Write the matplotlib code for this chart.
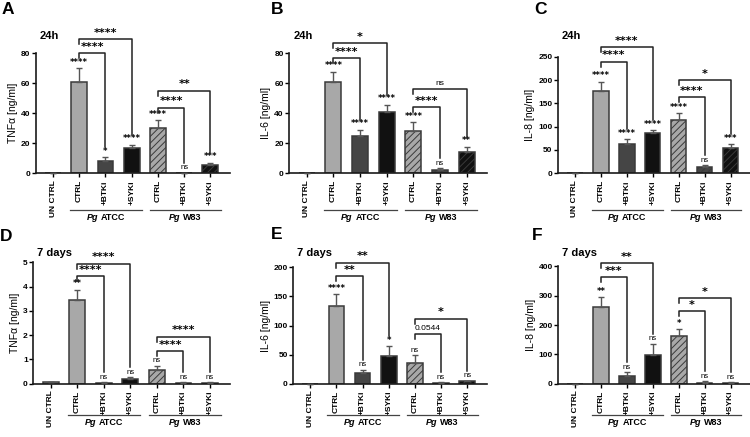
import matplotlib.pyplot as plt
from matplotlib.offsetbox import TextArea, HPacker, AnnotationBbox

plt.rcParams['font.family'] = ['Liberation Sans', 'DejaVu Sans']
plt.rcParams['font.weight'] = 'bold'
plt.rcParams['hatch.linewidth'] = 0.7

# categorias (eixo x)
groups = ['UN CTRL', 'CTRL', '+BTKi', '+SYKi', 'CTRL', '+BTKi', '+SYKi']

# A - TNFa 24h
tnf_24h = [0, 61, 8.5, 16.7, 30, 0.3, 5.6]
tnf_24h_err = [0, 9, 2.3, 2.2, 5.5, 0.2, 1.5]
tnf_24h_sig = ['', '****', '*', '****', '****', 'ns', '***']
tnf_24h_br = [(1, 2, 80, '****'), (1, 3, 89, '****'), (4, 5, 43.5, '****'), (4, 6, 55, '**')]

# B - IL-6 24h
il6_24h = [0, 61, 25, 40.5, 28, 2.5, 14]
il6_24h_err = [0, 6.5, 4, 5, 6, 1, 3.8]
il6_24h_sig = ['', '****', '****', '****', '****', 'ns', '**']
il6_24h_br = [(1, 2, 76.5, '****'), (1, 3, 86.5, '*'), (4, 5, 44, '****'), (4, 6, 56, 'ns')]

# C - IL-8 24h
il8_24h = [0, 176, 63, 86, 114, 14, 53.6]
il8_24h_err = [0, 20, 10, 7, 14.5, 4, 9.4]
il8_24h_sig = ['', '****', '****', '****', '****', 'ns', '***']
il8_24h_br = [(1, 2, 239, '****'), (1, 3, 270, '****'), (4, 5, 163, '****'), (4, 6, 200, '*')]

# D - TNFa 7 dias
tnf_7d = [0.07, 3.46, 0.04, 0.19, 0.58, 0.04, 0.04]
tnf_7d_err = [0.01, 0.41, 0.01, 0.08, 0.16, 0.01, 0.02]
tnf_7d_sig = ['', '**', 'ns', 'ns', 'ns', 'ns', 'ns']
tnf_7d_br = [(1, 2, 4.43, '****'), (1, 3, 4.95, '****'), (4, 5, 1.35, '****'), (4, 6, 1.93, '****')]

# E - IL-6 7 dias
il6_7d = [0, 134, 18.3, 48, 35.5, 2, 4]
il6_7d_err = [0, 20, 5.7, 16, 13, 0.5, 1]
il6_7d_sig = ['', '****', 'ns', '*', 'ns', 'ns', 'ns']
il6_7d_br = [(1, 2, 185, '**'), (1, 3, 208, '**'), (4, 5, 85, '0.0544'), (4, 6, 112, '*')]

# F - IL-8 7 dias
il8_7d = [0, 260, 25, 99, 161, 3, 2]
il8_7d_err = [0, 35, 15, 37, 25, 5, 4]
il8_7d_sig = ['', '**', 'ns', 'ns', '*', 'ns', 'ns']
il8_7d_br = [(1, 2, 362, '***'), (1, 3, 410, '**'), (4, 5, 247, '*'), (4, 6, 291, '*')]

panels = [
    ('A', '24h', 'TNF\u03b1 [ng/ml]', tnf_24h, tnf_24h_err, tnf_24h_sig, tnf_24h_br, [0, 20, 40, 60, 80], (36, 53, 230, 173.3)),
    ('B', '24h', 'IL-6 [ng/ml]', il6_24h, il6_24h_err, il6_24h_sig, il6_24h_br, [0, 20, 40, 60, 80], (289.3, 53, 486.7, 173.3)),
    ('C', '24h', 'IL-8 [ng/ml]', il8_24h, il8_24h_err, il8_24h_sig, il8_24h_br, [0, 50, 100, 150, 200, 250], (558, 56.7, 750, 173.3)),
    ('D', '7 days', 'TNF\u03b1 [ng/ml]', tnf_7d, tnf_7d_err, tnf_7d_sig, tnf_7d_br, [0, 1, 2, 3, 4, 5], (33.3, 262.3, 230, 383.7)),
    ('E', '7 days', 'IL-6 [ng/ml]', il6_7d, il6_7d_err, il6_7d_sig, il6_7d_br, [0, 50, 100, 150, 200], (293.3, 267.3, 486.7, 383.7)),
    ('F', '7 days', 'IL-8 [ng/ml]', il8_7d, il8_7d_err, il8_7d_sig, il8_7d_br, [0, 100, 200, 300, 400], (558.3, 266.3, 750, 383.7)),
]

W, H = 750, 437
fig = plt.figure(figsize=(7.5, 4.37), dpi=100)

faces = ['#b0b0b0', '#a8a8a8', '#454545', '#111111', '#a8a8a8', '#454545', '#111111']
hatches = [None, None, None, None, '/////', '/////', '/////']
letter_pos = {'A': (2, 2), 'B': (271, 2), 'C': (534, 2), 'D': (0, 229), 'E': (271, 227), 'F': (532, 228)}
star_font = ['DejaVu Sans']

for letter, when, ylabel, vals, errs, sig, brs, yticks, (l, t, r, b) in panels:
    ax = fig.add_axes([l / W, 1 - b / H, (r - l) / W, (b - t) / H])
    x = list(range(len(groups)))
    bars = ax.bar(x, vals, 0.6, color=faces, edgecolor='#3a3a3a', linewidth=1.1, zorder=2)
    for bar, h in zip(bars, hatches):
        if h:
            bar.set_hatch(h)
    ax.errorbar(x, vals, yerr=[[0] * 7, errs], fmt='none', ecolor='#555555',
                elinewidth=1, capsize=2.5, capthick=1, zorder=3, clip_on=False)
    ymax = yticks[-1]
    ax.set_ylim(0, ymax)
    ax.set_xlim(-0.65, 6.75)
    ax.set_yticks(yticks)
    ax.set_xticks(x)
    ax.set_xticklabels(groups, rotation=90, fontsize=6)
    ax.tick_params(axis='y', labelsize=6, length=3, width=1, pad=1)
    ax.tick_params(axis='x', length=3, width=1, pad=2)
    for s in ['top', 'right']:
        ax.spines[s].set_visible(False)
    for s in ['left', 'bottom']:
        ax.spines[s].set_linewidth(1.2)
        ax.spines[s].set_color('#1a1a1a')
    ax.set_ylabel(ylabel, fontsize=7.5, labelpad=2)

    ppu = (b - t) / ymax  # pixels por unidade
    for xi, v, e, s in zip(x, vals, errs, sig):
        if s:
            ax.annotate(s, (xi, v + e), xytext=(0, 1), textcoords='offset points',
                        ha='center', va='bottom', annotation_clip=False,
                        fontsize=6 if s.startswith('*') else 5.5,
                        family=star_font if s.startswith('*') else None,
                        fontweight='bold' if s.startswith('*') else 'normal')
    for i, j, lev, txt in brs:
        lb = lev - 5 / ppu
        rb = vals[j] + errs[j] + 10 / ppu
        ax.plot([i, i, j, j], [lb, lev, lev, rb], color='#222222', lw=1.1, clip_on=False, zorder=4)
        star = txt.startswith('*')
        ax.annotate(txt, ((i + j) / 2, lev), xytext=(0, 1 if star else 1.5), textcoords='offset points',
                    ha='center', va='bottom', fontsize=8 if star else 6,
                    family=star_font if star else None,
                    fontweight='bold' if star else 'normal', annotation_clip=False)

    # linhas de grupo embaixo
    dy = 37 if t < 200 else 31
    yl = -dy / (b - t)
    ylab = -(dy + 3) / (b - t)
    for x0, x1, name in [(0.65, 3.38, 'ATCC'), (3.7, 6.4, 'W83')]:
        ax.plot([x0, x1], [yl, yl], transform=ax.get_xaxis_transform(), color='#444444',
                lw=0.9, clip_on=False)
        pack = HPacker(children=[TextArea('Pg', textprops=dict(style='italic', weight='bold', size=6.5)),
                                 TextArea(name, textprops=dict(weight='bold', size=6.5))],
                       sep=2, pad=0, align='baseline')
        ab = AnnotationBbox(pack, ((x0 + x1) / 2, ylab), xycoords=ax.get_xaxis_transform(),
                            box_alignment=(0.5, 1), frameon=False, pad=0, annotation_clip=False)
        ax.add_artist(ab)

    lx, ly = letter_pos[letter]
    fig.text(lx / W, 1 - ly / H, letter, fontsize=12.5, fontweight='bold', ha='left', va='top')
    ty = 36 if t < 200 else 253
    fig.text((l + 4) / W, 1 - ty / H, when, fontsize=8, fontweight='bold', ha='left', va='center')

fig.savefig('out.png', dpi=100)
